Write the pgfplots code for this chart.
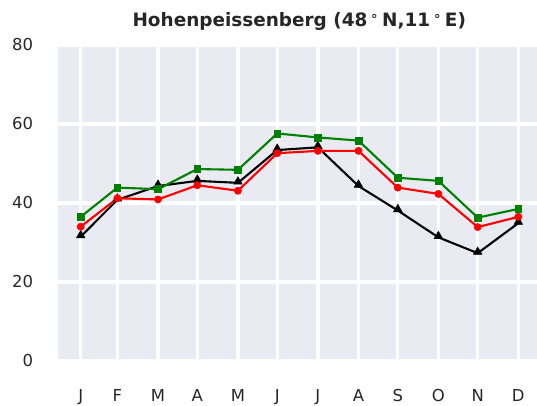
\documentclass[border=0pt]{standalone}
\usepackage{pgfplots}
\pgfplotsset{compat=1.18}
\usepackage{fontspec}
\setmainfont{DejaVu Sans}
\definecolor{bgc}{HTML}{EAEAF2}
\definecolor{txt}{HTML}{262626}
\definecolor{mgreen}{rgb}{0,0.5,0}
\begin{document}
\begin{tikzpicture}
\begin{axis}[
  at={(58.3bp,45bp)}, anchor=south west,
  scale only axis, width=481.9bp, height=316bp,
  xmin=13.9, xmax=381.7, ymin=0, ymax=80,
  axis background/.style={fill=bgc},
  axis line style={draw=none},
  tick style={draw=none},
  grid=major,
  major grid style={white, line width=3.3bp},
  xtick={31,59,90,120,151,181,212,243,273,304,334,365},
  xticklabels={J,F,M,A,M,J,J,A,S,O,N,D},
  ytick={0,20,40,60,80},
  /pgf/number format/assume math mode=true,
  tick label style={font=\fontsize{16.5}{19.8}\selectfont, text=txt},
  xticklabel style={anchor=north, inner sep=0pt, yshift=-28bp},
  yticklabel style={anchor=east, inner sep=0pt, xshift=-25bp},
  every axis title shift=0pt,
  title={Hohenpeissenberg (48\,\textsuperscript{∘}\,N,11\,\textsuperscript{∘}\,E)},
  title style={font=\bfseries\fontsize{18.5}{22}\selectfont, text=txt, anchor=base, at={(0.5,1)}, yshift=18.3bp, inner sep=0pt},
  clip=false,
]
\addplot[black, line width=2.1bp, mark=triangle*, mark size=4.9bp, mark options={solid, line width=0.6bp, yshift=1.2bp}] coordinates {
(31,31.5) (59,40.8) (90,44.3) (120,45.6) (151,45.1) (181,53.4) (212,54.1) (243,44.3) (273,38.1) (304,31.3) (334,27.3) (365,34.9)};
\addplot[red, line width=2.1bp, mark=*, mark size=3.6bp, mark options={solid, line width=0.6bp}] coordinates {
(31,34.0) (59,41.2) (90,40.9) (120,44.5) (151,43.1) (181,52.6) (212,53.2) (243,53.2) (273,43.9) (304,42.3) (334,33.9) (365,36.5)};
\addplot[mgreen, line width=2.1bp, mark=square*, mark size=3.4bp, mark options={solid, line width=0.6bp}] coordinates {
(31,36.5) (59,43.9) (90,43.5) (120,48.6) (151,48.4) (181,57.6) (212,56.6) (243,55.8) (273,46.4) (304,45.6) (334,36.3) (365,38.5)};
\end{axis}
\pgfresetboundingbox
\path[use as bounding box] (0,0) rectangle (537bp,406bp);
\end{tikzpicture}
\end{document}
